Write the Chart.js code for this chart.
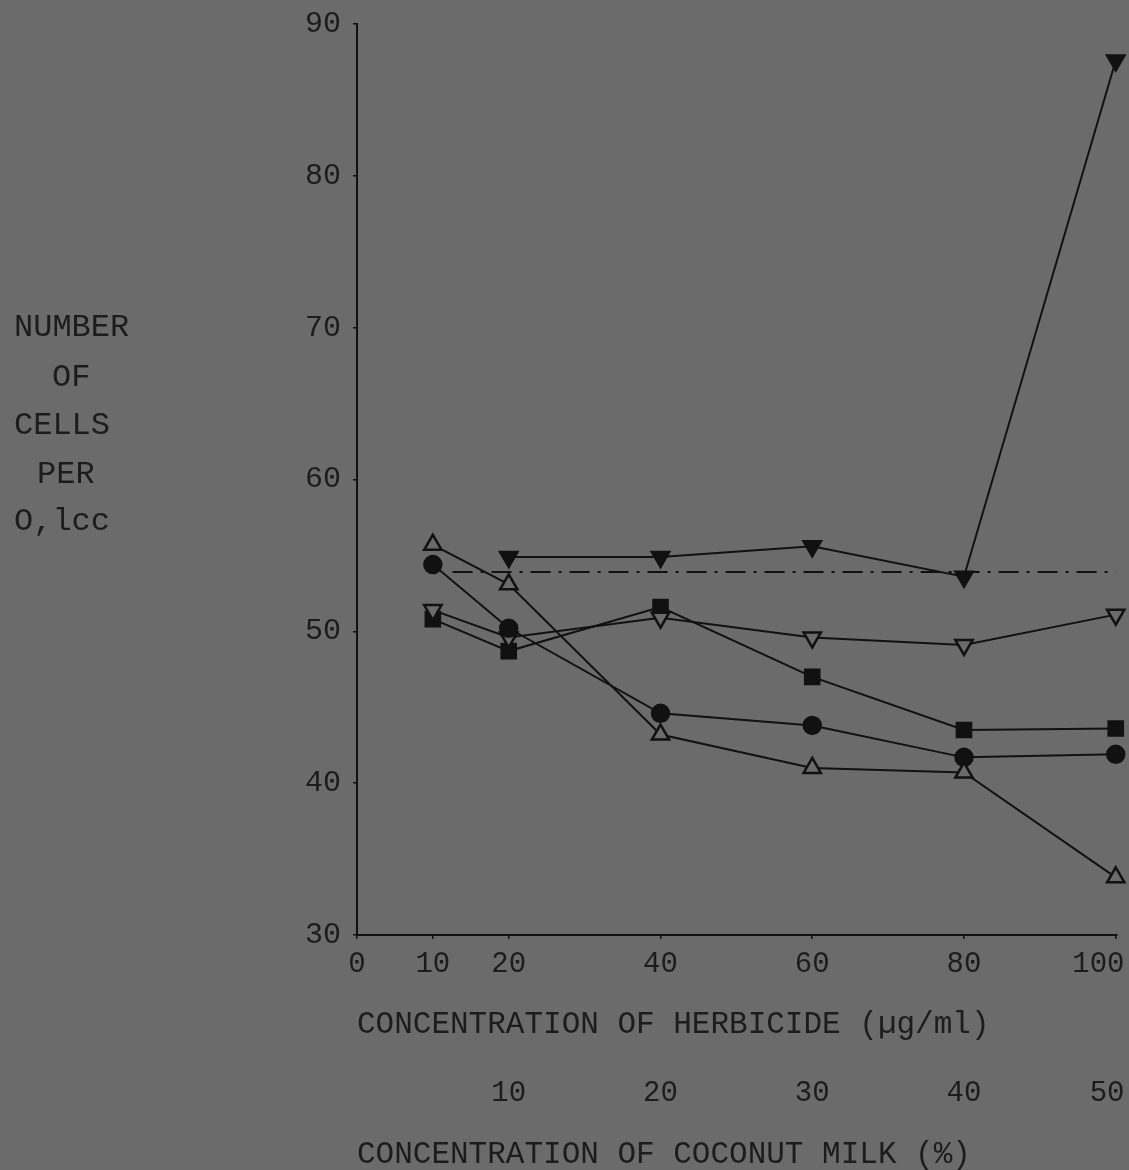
<!DOCTYPE html>
<html>
<head>
<meta charset="utf-8">
<script src="https://cdn.jsdelivr.net/npm/chart.js@4.4.1/dist/chart.umd.min.js"></script>
<style>
  html, body { margin: 0; padding: 0; background: #6b6b6b; }
  #wrap { width: 1129px; height: 1170px; }
</style>
</head>
<body>
<div id="wrap"><canvas id="cellChart" width="1129" height="1170"></canvas></div>
<script>
// ── Data ──
const herbicide   = [10, 20, 40, 60, 80, 100];           // µg/ml
const openUp      = [55.7, 53.1, 43.2, 41.0, 40.7, 33.8]; // △
const filledDot   = [54.4, 50.2, 44.6, 43.8, 41.7, 41.9]; // ●
const filledDown  = [null, 54.9, 54.9, 55.6, 53.6, 87.6]; // ▼
const openDown    = [51.4, 49.6, 50.9, 49.6, 49.1, 51.1]; // ▽
const filledSq    = [50.8, 48.7, 51.6, 47.0, 43.5, 43.6]; // ■
const controlX    = [12.6, 100];
const controlY    = [53.9, 53.9];                         // dash-dot reference

const herbTicks   = [0, 10, 20, 40, 60, 80, 100];
const milkTicks   = [10, 20, 30, 40, 50];                 // % coconut milk, sits under herbicide = 2x
const yTicks      = [30, 40, 50, 60, 70, 80, 90];
const yTitleLines = ['NUMBER', 'OF', 'CELLS', 'PER', 'O,lcc'];

const BG   = '#6b6b6b';
const INK  = '#111111';
const TXT  = '#1c1c1c';
const MONO = '"Liberation Mono", "DejaVu Sans Mono", monospace';

const pts = ys => herbicide.map((x, i) => ({ x, y: ys[i] })).filter(p => p.y !== null);

function series(ys, style, rot, fill, r) {
  return {
    data: pts(ys),
    borderColor: INK,
    borderWidth: 2,
    pointStyle: style,
    rotation: rot,
    pointRadius: r,
    pointBorderWidth: 2.5,
    pointBorderColor: INK,
    pointBackgroundColor: fill,
    clip: false,
    tension: 0
  };
}

// the right-most labels sit left of their tick in the original (page edge)
const lastPad = (txt, isLast) => isLast ? txt + ' '.repeat(txt.length - 1) : txt;

// page background + unrotated stacked y title
const paperPlugin = {
  id: 'paper',
  beforeDraw(chart) {
    const c = chart.ctx;
    c.save();
    c.fillStyle = BG;
    c.fillRect(0, 0, chart.width, chart.height);
    c.restore();
  },
  afterDraw(chart) {
    const c = chart.ctx;
    const xs = [14, 52, 14, 37, 14];
    const ys = [328, 378, 426, 475, 522];
    c.save();
    c.fillStyle = TXT;
    c.font = '32px ' + MONO;
    c.textBaseline = 'middle';
    c.textAlign = 'left';
    yTitleLines.forEach((t, i) => c.fillText(t, xs[i], ys[i]));
    c.restore();
  }
};

const ctx = document.getElementById('cellChart').getContext('2d');
new Chart(ctx, {
  type: 'line',
  data: {
    datasets: [
      series(openUp, 'triangle', 0, BG, 10),
      series(filledDot, 'circle', 0, INK, 8.5),
      series(filledDown, 'triangle', 180, INK, 10),
      series(openDown, 'triangle', 180, BG, 10),
      series(filledSq, 'rect', 0, INK, 10),
      {
        data: controlX.map((x, i) => ({ x, y: controlY[i] })),
        borderColor: INK,
        borderWidth: 2,
        borderDash: [20, 8, 3, 8],
        pointRadius: 0,
        clip: false
      }
    ]
  },
  options: {
    responsive: false,
    animation: false,
    events: [],
    layout: { padding: { top: 24, left: 0, right: 4, bottom: 0 } },
    plugins: { legend: { display: false }, tooltip: { enabled: false } },
    scales: {
      x: {
        type: 'linear',
        position: 'bottom',
        min: 0,
        max: 100.1,
        grid: { display: true, drawOnChartArea: false, drawTicks: true, tickLength: 4, color: INK, lineWidth: 1.5 },
        border: { display: true, color: INK, width: 2 },
        ticks: { color: TXT, font: { family: MONO, size: 29 }, padding: 8, maxRotation: 0, autoSkip: false,
                 callback: (v, i, all) => lastPad(String(v), i === all.length - 1) },
        afterBuildTicks: s => { s.ticks = herbTicks.map(v => ({ value: v })); },
        afterFit: s => { s.height = 105; s.paddingLeft = 0; s.paddingRight = 0; },
        title: {
          display: true,
          text: 'CONCENTRATION OF HERBICIDE (µg/ml)',
          align: 'start',
          color: TXT,
          font: { family: MONO, size: 31, lineHeight: 1 },
          padding: 0
        }
      },
      x2: {
        type: 'linear',
        position: 'bottom',
        min: 0,
        max: 100.1,
        grid: { display: false, drawTicks: false },
        border: { display: false },
        ticks: { color: TXT, font: { family: MONO, size: 29 }, padding: 36, maxRotation: 0, autoSkip: false,
                 callback: (v, i, all) => lastPad(String(milkTicks[i]), i === all.length - 1) },
        afterBuildTicks: s => { s.ticks = milkTicks.map(m => ({ value: m * 2 })); },
        afterFit: s => { s.height = 130; s.paddingLeft = 0; s.paddingRight = 0; },
        title: {
          display: true,
          text: 'CONCENTRATION OF COCONUT MILK (%)',
          align: 'start',
          color: TXT,
          font: { family: MONO, size: 31, lineHeight: 1 },
          padding: 0
        }
      },
      y: {
        min: 30,
        max: 90,
        grid: { display: true, drawOnChartArea: false, drawTicks: true, tickLength: 4, color: INK, lineWidth: 1.5 },
        border: { display: true, color: INK, width: 2 },
        ticks: { color: TXT, font: { family: MONO, size: 30 }, padding: 12 },
        afterBuildTicks: s => { s.ticks = yTicks.map(v => ({ value: v })); },
        afterFit: s => { s.width = 357; s.paddingTop = 0; s.paddingBottom = 0; }
      }
    }
  },
  plugins: [paperPlugin]
});
</script>
</body>
</html>
